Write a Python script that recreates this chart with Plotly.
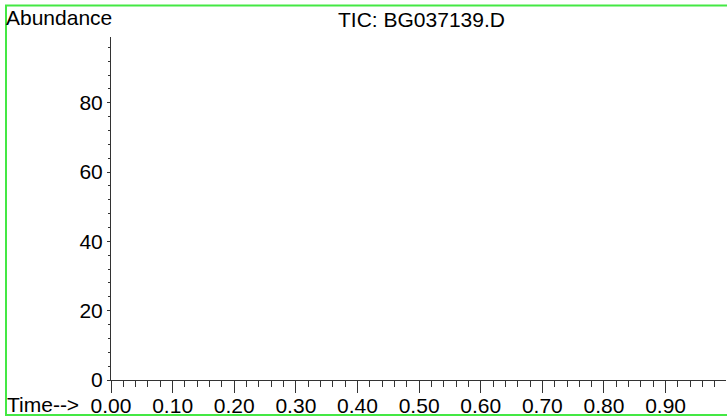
import plotly.graph_objects as go

# chromatogram (empty in the reference)
time_min = []
abundance = []

x_ticks = [0.0, 0.1, 0.2, 0.3, 0.4, 0.5, 0.6, 0.7, 0.8, 0.9]
x_labels = ["0.00", "0.10", "0.20", "0.30", "0.40", "0.50", "0.60", "0.70", "0.80", "0.90"]
y_ticks = [0, 20, 40, 60, 80]
y_labels = ["0", "20", "40", "60", "80"]

FONT = "Liberation Sans, Arial, sans-serif"
INK = "#000000"
AXIS = "#333333"
FRAME = "#44E844"

W, H = 727, 418
L, R, T, B = 111, 1, 37, 38
PW, PH = W - L - R, H - T - B


def px_x(p):
    return (p - L) / PW


def px_y(p):
    return (H - B - p) / PH


fig = go.Figure(go.Scatter(
    x=time_min, y=abundance, mode="lines",
    line=dict(color=INK, width=1), showlegend=False,
))

fig.update_layout(
    width=W, height=H,
    margin=dict(l=L, r=R, t=T, b=B, pad=0, autoexpand=False),
    paper_bgcolor="white", plot_bgcolor="white",
    font=dict(family=FONT, size=21, color=INK),
    xaxis=dict(
        range=[0, 0.998], tickvals=x_ticks, ticktext=x_labels,
        showgrid=False, zeroline=False, showline=True, automargin=False,
        linecolor=AXIS, linewidth=1,
        ticks="outside", ticklen=12, tickcolor=AXIS, tickwidth=1,
        ticklabelstandoff=-5,
        minor=dict(dtick=0.02, ticks="outside", ticklen=6, tickcolor=AXIS),
        tickfont=dict(size=21),
    ),
    yaxis=dict(
        range=[0, 99], tickvals=y_ticks, ticktext=y_labels,
        showgrid=False, zeroline=False, showline=True, automargin=False,
        linecolor=AXIS, linewidth=1,
        ticks="outside", ticklen=3, tickcolor=AXIS, tickwidth=1,
        minor=dict(dtick=4, ticks="outside", ticklen=2, tickcolor=AXIS),
        tickfont=dict(size=21),
    ),
)

fig.add_annotation(text="Abundance", xref="paper", yref="paper",
                   x=px_x(4), y=px_y(18), xanchor="left", yanchor="middle",
                   showarrow=False, font=dict(size=21))
fig.add_annotation(text="TIC: BG037139.D", xref="paper", yref="paper",
                   x=px_x(421), y=px_y(19), xanchor="center", yanchor="middle",
                   showarrow=False, font=dict(size=21))
fig.add_annotation(text="Time-->", xref="paper", yref="paper",
                   x=px_x(5), y=px_y(404), xanchor="left", yanchor="middle",
                   showarrow=False, font=dict(size=21))

fig.add_shape(type="rect", xref="paper", yref="paper",
              x0=px_x(6), x1=px_x(730), y0=px_y(415), y1=px_y(5.5),
              line=dict(color=FRAME, width=2), layer="above")

fig.write_html("out.html", config={"displayModeBar": False},
               post_script="document.body.style.margin = '0';")
